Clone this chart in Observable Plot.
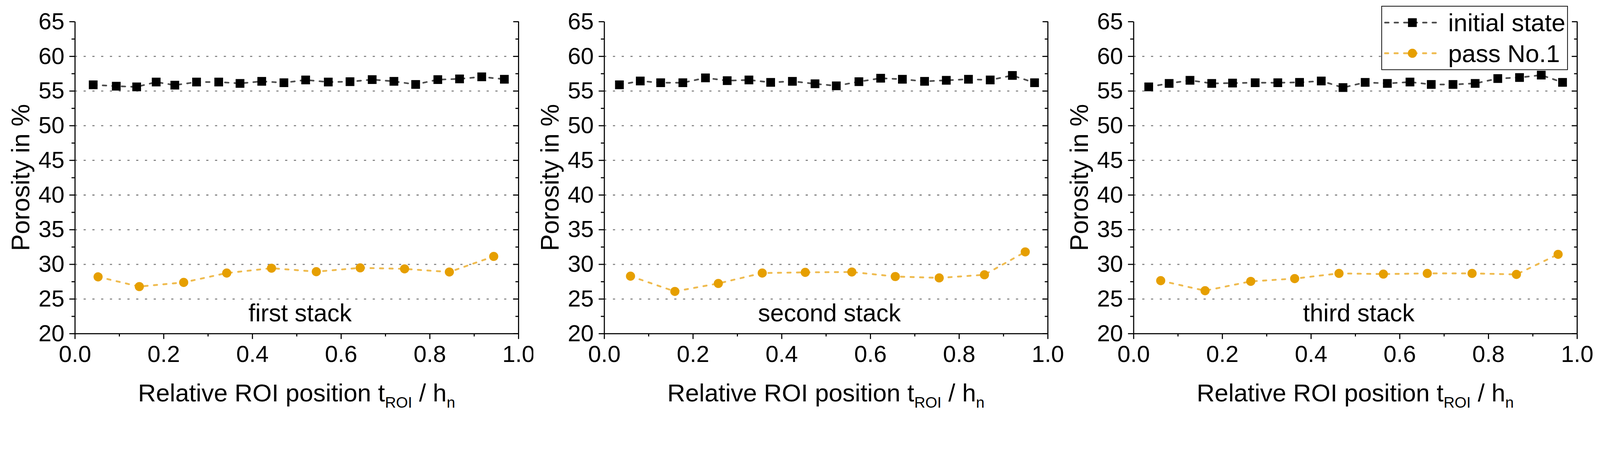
<!DOCTYPE html>
<html>
<head>
<meta charset="utf-8">
<script src="https://cdn.jsdelivr.net/npm/d3@7"></script>
<script src="https://cdn.jsdelivr.net/npm/@observablehq/plot@0.6"></script>
<style>
  html, body { margin: 0; padding: 0; background: #fff; overflow: hidden; }
  #root { position: relative; width: 4383px; height: 1155px; background: #fff;
          font-family: "Liberation Sans", Arial, sans-serif; transform-origin: 0 0; }
  .panel { position: absolute; top: 0; width: 1461px; height: 1155px; }
  .panel svg, #legend { overflow: visible; }
  #legend { position: absolute; left: 3784px; top: 16px; }
</style>
</head>
<body>
<div id="root"></div>
<script>
// ---------- data ----------
const seriesNames = ["initial state", "pass No.1"];
const panelNames = ["first stack", "second stack", "third stack"];

const xInitial1 = [0.041, 0.093, 0.139, 0.183, 0.225, 0.274, 0.324, 0.372, 0.421, 0.471, 0.520, 0.571, 0.620, 0.670, 0.719, 0.768, 0.818, 0.867, 0.917, 0.968];
const yInitial1 = [55.9, 55.7, 55.6, 56.3, 55.85, 56.3, 56.3, 56.1, 56.4, 56.2, 56.6, 56.3, 56.35, 56.65, 56.4, 55.95, 56.65, 56.75, 57.05, 56.7];
const xPass1 = [0.052, 0.145, 0.245, 0.342, 0.443, 0.544, 0.643, 0.743, 0.844, 0.944];
const yPass1 = [28.2, 26.8, 27.4, 28.75, 29.45, 28.95, 29.5, 29.35, 28.9, 31.15];

const xInitial2 = [0.034, 0.081, 0.127, 0.177, 0.228, 0.277, 0.326, 0.375, 0.424, 0.475, 0.523, 0.574, 0.623, 0.672, 0.722, 0.771, 0.821, 0.870, 0.920, 0.970];
const yInitial2 = [55.9, 56.45, 56.2, 56.2, 56.9, 56.5, 56.6, 56.25, 56.4, 56.05, 55.75, 56.35, 56.85, 56.7, 56.4, 56.55, 56.7, 56.6, 57.25, 56.2];
const xPass2 = [0.059, 0.159, 0.257, 0.356, 0.453, 0.558, 0.656, 0.755, 0.857, 0.949];
const yPass2 = [28.3, 26.1, 27.25, 28.75, 28.85, 28.9, 28.25, 28.05, 28.5, 31.8];

const xInitial3 = [0.034, 0.080, 0.127, 0.176, 0.223, 0.274, 0.325, 0.374, 0.423, 0.472, 0.522, 0.572, 0.623, 0.671, 0.720, 0.770, 0.821, 0.870, 0.919, 0.967];
const yInitial3 = [55.6, 56.1, 56.55, 56.1, 56.15, 56.2, 56.2, 56.25, 56.45, 55.5, 56.25, 56.1, 56.3, 55.95, 55.95, 56.1, 56.8, 56.95, 57.3, 56.25];
const xPass3 = [0.061, 0.161, 0.264, 0.363, 0.463, 0.563, 0.662, 0.763, 0.863, 0.957];
const yPass3 = [27.65, 26.2, 27.55, 27.95, 28.7, 28.6, 28.7, 28.7, 28.55, 31.45];

const xTicks = [0, 0.2, 0.4, 0.6, 0.8, 1.0];
const xMinor = [0.1, 0.3, 0.5, 0.7, 0.9];
const yTicks = [20, 25, 30, 35, 40, 45, 50, 55, 60, 65];
const yMinor = [22.5, 27.5, 32.5, 37.5, 42.5, 47.5, 52.5, 57.5, 62.5];
const gridValues = [25, 30, 35, 40, 45, 50, 55, 60];

const xInitial = [xInitial1, xInitial2, xInitial3];
const yInitial = [yInitial1, yInitial2, yInitial3];
const xPass = [xPass1, xPass2, xPass3];
const yPass = [yPass1, yPass2, yPass3];

// ---------- style ----------
const FONT = '"Liberation Sans", Arial, sans-serif';
const colInitLine = "#4d4d4d", colInitDot = "#000000";
const colPassLine = "#efbb4f", colPassDot = "#e69f00";
const gridColor = "#808080";

const layout = [
  {left: 0,    ml: 205, mr: 41},
  {left: 1461, ml: 194, mr: 52},
  {left: 2922, ml: 183, mr: 63}
];
const W = 1461, H = 1155, MT = 59, MB = 241;

const root = document.getElementById("root");
// fit the 4383x1155 design into whatever viewport the browser really has
const fit = Math.min(window.innerWidth / 4383, window.innerHeight / 1155) || 1;
root.style.transform = `scale(${fit})`;

layout.forEach((L, i) => {
  const init = xInitial[i].map((x, j) => ({x, y: yInitial[i][j]}));
  const pass = xPass[i].map((x, j) => ({x, y: yPass[i][j]}));
  const chart = Plot.plot({
    width: W, height: H,
    marginLeft: L.ml, marginRight: L.mr, marginTop: MT, marginBottom: MB,
    x: {domain: [0, 1], axis: null},
    y: {domain: [20, 65], axis: null},
    style: {fontFamily: FONT, background: "white", color: "black", overflow: "visible"},
    marks: [
      Plot.ruleY(gridValues, {stroke: gridColor, strokeWidth: 3, strokeDasharray: "6,18"}),
      Plot.axisY({anchor: "left", ticks: yTicks, tickSize: 15, tickPadding: 14, fontSize: 64, strokeWidth: 3, label: null}),
      Plot.axisY({anchor: "left", ticks: yMinor, tickSize: 9, strokeWidth: 3, fill: "none", label: null}),
      Plot.axisY({anchor: "right", ticks: yTicks, tickSize: -15, strokeWidth: 3, fill: "none", label: null}),
      Plot.axisY({anchor: "right", ticks: yMinor, tickSize: -9, strokeWidth: 3, fill: "none", label: null}),
      Plot.axisX({anchor: "bottom", ticks: xTicks, tickSize: 15, tickPadding: 17, fontSize: 64, strokeWidth: 3, tickFormat: d3.format(".1f"), label: null}),
      Plot.axisX({anchor: "bottom", ticks: xMinor, tickSize: 8, strokeWidth: 3, fill: "none", label: null}),
      Plot.ruleX([0, 1], {strokeWidth: 3}),
      Plot.ruleY([20], {strokeWidth: 3}),
      Plot.line(pass, {x: "x", y: "y", stroke: colPassLine, strokeWidth: 5, strokeDasharray: "9,17", strokeLinecap: "round"}),
      Plot.dot(pass, {x: "x", y: "y", r: 12.5, fill: colPassDot, symbol: "circle"}),
      Plot.line(init, {x: "x", y: "y", stroke: colInitLine, strokeWidth: 4.5, strokeDasharray: "10,16", strokeLinecap: "round"}),
      Plot.dot(init, {x: "x", y: "y", r: 13.5, fill: colInitDot, symbol: "square"}),
      Plot.text([panelNames[i]], {text: d => d, frameAnchor: "bottom", dx: 9, dy: -34, lineAnchor: "bottom", fontSize: 67, fill: "black"})
    ]
  });
  const svg = d3.select(chart);
  const frameW = W - L.ml - L.mr;
  // y-axis title
  svg.append("text")
    .attr("transform", `translate(${L.ml - 125},${MT + (H - MT - MB) / 2}) rotate(-90)`)
    .attr("text-anchor", "middle").attr("font-size", 69).attr("fill", "black")
    .attr("font-family", FONT)
    .text("Porosity in %");
  // x-axis title with subscripts
  const t = svg.append("text")
    .attr("x", L.ml + frameW / 2).attr("y", 1100)
    .attr("text-anchor", "middle").attr("font-size", 68).attr("fill", "black")
    .attr("font-family", FONT).style("white-space", "pre");
  t.append("tspan").text("Relative ROI position t");
  t.append("tspan").attr("font-size", 42).attr("dy", 17).text("ROI");
  t.append("tspan").attr("dy", -17).text(" / h");
  t.append("tspan").attr("font-size", 42).attr("dy", 17).text("n");

  const div = document.createElement("div");
  div.className = "panel";
  div.style.left = L.left + "px";
  div.appendChild(chart);
  root.appendChild(div);
});

// ---------- legend ----------
const lg = d3.select(root).append("svg").attr("id", "legend")
  .attr("width", 511).attr("height", 176);
lg.append("rect").attr("x", 1).attr("y", 1).attr("width", 509).attr("height", 174)
  .attr("fill", "white").attr("stroke", "black").attr("stroke-width", 2);
const rows = [
  {name: seriesNames[0], y: 46, line: colInitLine, lw: 4.5, dash: "10,16", dot: colInitDot, sym: "square"},
  {name: seriesNames[1], y: 130, line: colPassLine, lw: 5, dash: "9,17", dot: colPassDot, sym: "circle"}
];
rows.forEach(r => {
  lg.append("line").attr("x1", 10).attr("x2", 155).attr("y1", r.y).attr("y2", r.y)
    .attr("stroke", r.line).attr("stroke-width", r.lw).attr("stroke-dasharray", r.dash)
    .attr("stroke-linecap", "round");
  if (r.sym === "square") {
    lg.append("rect").attr("x", 85 - 12).attr("y", r.y - 12).attr("width", 24).attr("height", 24).attr("fill", r.dot);
  } else {
    lg.append("circle").attr("cx", 85).attr("cy", r.y).attr("r", 12.5).attr("fill", r.dot);
  }
  lg.append("text").attr("x", 183).attr("y", r.y + 24).attr("font-size", 68)
    .attr("font-family", FONT).attr("fill", "black").text(r.name);
});
</script>
</body>
</html>
